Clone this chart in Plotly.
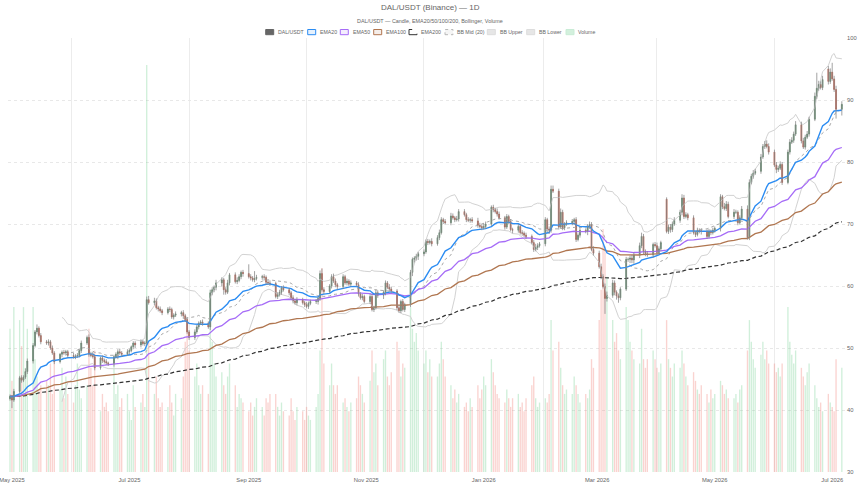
import plotly.graph_objects as go
import pandas as pd

# Trading days only (weekdays), starting Wed 2025-04-30
START = "2025-04-30"
FIRST_OPEN = 41.8

close = [
    42.2, 41.6, 43.0, 45.2, 44.8, 45.3, 46.2, 47.9,
    50.4, 52.6, 53.2, 52.0, 51.0, 50.8,
    51.0, 50.0, 49.2, 47.8, 49.0, 49.3, 49.2, 49.4,
    48.8, 48.6, 48.7, 48.8, 49.6, 50.8,
    51.7, 49.0, 48.8, 48.6, 46.8, 48.4, 48.0, 47.8,
    47.6, 47.5, 48.6, 49.0, 49.4, 49.2, 49.0,
    49.4, 49.6, 50.2, 50.8, 50.5, 51.0, 50.7,
    50.8, 57.8, 57.3, 57.6, 56.5, 56.3, 56.0, 55.7,
    56.3, 56.2, 55.0, 55.3, 55.5, 55.7,
    55.2, 54.6, 52.6, 51.7, 52.6, 53.4, 54.0, 54.2,
    54.0, 53.4, 58.9, 59.4, 59.8, 60.5,
    61.0, 59.4, 59.0, 60.5, 61.8, 60.7, 60.9, 61.5,
    62.2, 62.0, 61.5, 61.3, 61.0, 61.2, 61.4,
    61.5, 61.4, 60.6, 60.5, 60.4, 58.3, 58.6,
    59.0, 59.7, 59.4, 58.9, 58.1, 57.6, 57.3, 57.8,
    57.3, 57.0, 56.7, 57.2, 57.5, 57.5,
    58.0, 62.0, 59.4, 59.1, 60.0, 61.5, 60.8, 60.2,
    59.9, 61.5, 60.5, 60.8, 60.3, 60.5,
    60.2, 58.7, 58.1, 58.3, 57.5, 58.3, 56.2, 56.5,
    58.9, 58.5, 59.0, 60.5, 59.8, 59.5, 59.2,
    56.5, 56.0, 57.5, 56.2, 57.0, 62.2, 64.3,
    64.5, 64.8, 65.2, 65.5, 67.2, 67.0, 67.2, 66.8,
    67.8, 68.6, 70.7, 70.4, 70.2, 71.3,
    71.0, 70.7, 70.8, 72.0, 71.5, 70.7, 70.6, 70.7,
    70.5, 69.8, 69.6, 69.4, 69.6, 70.0,
    72.7, 72.3, 72.0, 71.6, 71.0, 69.5, 71.2, 70.4,
    69.1, 69.0, 69.6, 68.6, 68.5, 68.2, 68.0,
    67.0, 65.9, 66.2, 66.5, 66.8, 70.7, 69.2,
    69.0, 75.6, 75.3, 69.5, 71.9, 69.4, 70.0, 70.2,
    70.4, 70.7, 67.5, 68.2, 69.0, 68.8,
    69.6, 69.9, 65.9, 65.3, 63.1, 61.5, 59.9, 58.0,
    58.5, 60.5, 59.0, 58.4, 58.1, 59.5,
    64.3, 64.3, 64.5, 64.2, 65.0, 66.5, 68.0, 65.6,
    65.2, 65.0, 66.7, 66.5, 65.4, 66.0, 67.0,
    68.8, 69.5, 69.1, 70.0, 70.6, 71.9, 74.2,
    71.2, 71.5, 71.0, 68.6, 68.3, 69.0, 68.9, 68.8,
    68.0, 68.8, 68.6, 69.0, 69.3, 74.4,
    72.8, 72.5, 73.2, 71.2, 71.9, 71.9, 70.2, 71.0,
    72.4, 67.8, 76.7, 77.7, 78.2, 78.5,
    80.8, 82.5, 82.9, 82.5, 81.6, 79.5, 78.8, 79.0,
    79.6, 76.7, 81.6, 83.2, 83.5, 84.5, 86.0,
    83.4, 82.4, 84.0, 84.5, 86.9, 90.6, 91.9,
    92.5, 92.0, 93.3, 93.0, 94.5, 93.4, 91.7, 88.5,
    89.3,
]

# opens that gap away from the previous close
open_gaps = {"2026-04-06": 74.0, "2026-06-29": 95.0}

# wick lengths in tenths of a price unit
up_wick = [
    3, 2, 4, 3, 4, 3, 5, 4, 4, 3, 6, 3, 4, 3, 4, 3, 4, 3, 2, 3,
    4, 3, 3, 4, 3, 4, 3, 4, 3, 5, 4, 6, 3, 2, 4, 3, 4, 2, 3, 3,
    4, 5, 3, 4, 3, 2, 3, 3, 4, 3, 3, 5, 6, 5, 4, 3, 4, 3, 3, 4,
    3, 3, 4, 3, 4, 3, 4, 3, 4, 3, 3, 3, 4, 3, 5, 4, 3, 5, 4, 3,
    4, 5, 3, 4, 5, 4, 3, 4, 15, 4, 3, 12, 4, 3, 4, 3, 3, 4, 3, 4,
    4, 3, 4, 3, 3, 4, 3, 4, 3, 3, 4, 3, 3, 4, 3, 5, 8, 4, 3, 4,
    5, 4, 3, 4, 3, 4, 3, 4, 3, 4, 3, 4, 3, 4, 4, 3, 5, 4, 3, 4,
    3, 5, 4, 3, 4, 3, 4, 3, 4, 3, 3, 4, 3, 4, 3, 4, 3, 5, 4, 5,
    4, 3, 4, 5, 4, 3, 5, 4, 4, 3, 4, 3, 4, 5, 4, 3, 5, 4, 3, 4,
    3, 5, 4, 3, 4, 3, 4, 3, 4, 3, 4, 3, 4, 3, 4, 6, 4, 3, 4, 3,
    4, 6, 6, 4, 6, 4, 3, 4, 4, 3, 4, 3, 4, 3, 4, 5, 4, 5, 4, 5,
    4, 5, 6, 5, 4, 3, 4, 3, 4, 3, 4, 5, 4, 5, 6, 4, 3, 4, 3, 4,
    5, 4, 3, 3, 4, 5, 4, 5, 4, 6, 5, 4, 3, 4, 3, 4, 3, 4, 3, 4,
    3, 4, 3, 4, 3, 6, 5, 4, 5, 4, 3, 4, 5, 6, 5, 4, 5, 4, 5, 4,
    5, 6, 5, 4, 5, 4, 5, 4, 4, 5, 5, 4, 6, 5, 5, 4, 5, 4, 6, 25,
    6, 5, 6, 5, 6, 15, 5, 6, 5,
]

down_wick = [
    3, 13, 3, 3, 4, 3, 3, 4, 4, 3, 4, 3, 4, 3, 4, 3, 3, 4, 3, 5,
    3, 4, 3, 3, 4, 3, 3, 4, 3, 4, 3, 3, 4, 3, 4, 3, 3, 4, 5, 3,
    8, 3, 4, 3, 4, 3, 4, 5, 4, 3, 4, 3, 3, 4, 3, 4, 3, 4, 3, 4,
    3, 4, 3, 4, 5, 4, 3, 4, 4, 3, 4, 3, 4, 3, 5, 4, 4, 5, 6, 8,
    4, 3, 4, 3, 4, 3, 4, 5, 3, 4, 3, 4, 3, 4, 5, 4, 3, 4, 3, 4,
    3, 4, 3, 4, 3, 4, 3, 4, 3, 4, 3, 4, 3, 4, 5, 4, 3, 4, 3, 4,
    3, 4, 5, 4, 3, 4, 3, 4, 3, 4, 3, 4, 3, 4, 3, 4, 3, 4, 6, 5,
    3, 4, 3, 4, 3, 4, 3, 4, 4, 6, 5, 4, 6, 4, 3, 4, 3, 4, 3, 4,
    3, 4, 3, 4, 3, 4, 3, 4, 3, 4, 3, 4, 3, 4, 3, 4, 3, 4, 3, 4,
    3, 4, 3, 4, 3, 4, 3, 5, 4, 3, 4, 3, 4, 3, 4, 3, 4, 3, 4, 5,
    6, 4, 3, 4, 3, 4, 4, 3, 4, 5, 4, 3, 4, 3, 6, 4, 3, 4, 3, 4,
    3, 25, 5, 4, 5, 6, 8, 4, 3, 4, 6, 5, 6, 5, 4, 5, 4, 3, 4, 3,
    4, 3, 4, 3, 4, 5, 4, 3, 4, 5, 4, 3, 4, 3, 4, 3, 4, 5, 4, 3,
    4, 3, 4, 5, 4, 3, 4, 3, 4, 3, 4, 3, 4, 3, 4, 3, 4, 3, 4, 3,
    4, 3, 4, 3, 6, 4, 3, 4, 3, 4, 3, 4, 3, 4, 3, 4, 3, 4, 3, 4,
    4, 3, 4, 5, 4, 3, 4, 15, 10,
]

volume = [
    330, 210, 380, 350, 290, 380, 240, 330,
    380, 260, 220, 190, 200, 210,
    200, 250, 180, 260, 190, 240, 170, 220,
    180, 160, 200, 250, 190, 170,
    200, 330, 240, 200, 280, 140, 180, 150,
    160, 140, 260, 180, 200, 150, 170,
    180, 140, 120, 200, 150, 160, 180,
    150, 938, 300, 180, 220, 170, 150, 160,
    150, 200, 160, 130, 180, 170,
    220, 300, 350, 280, 220, 250, 200, 180,
    200, 180, 420, 300, 250, 220,
    230, 200, 180, 220, 250, 200, 150, 180,
    170, 160, 140, 160, 130, 150, 170,
    150, 130, 170, 160, 180, 180, 150,
    130, 160, 140, 130, 170, 140, 120, 150,
    140, 120, 150, 130, 120, 150,
    180, 280, 470, 250, 200, 250, 200, 180,
    200, 160, 170, 150, 140, 160,
    170, 220, 200, 180, 160, 210, 280, 230,
    250, 200, 260, 280, 220, 200, 230,
    300, 280, 220, 250, 240, 380, 330,
    300, 320, 280, 250, 280, 230, 260, 220,
    220, 250, 300, 260, 220, 200,
    170, 190, 160, 180, 150, 160, 140, 170,
    150, 200, 170, 190, 220, 200,
    260, 230, 200, 180, 170, 160, 190, 170,
    150, 170, 180, 150, 160, 140, 170,
    200, 220, 170, 150, 160, 170, 160,
    180, 350, 280, 300, 240, 200, 180, 190,
    180, 220, 200, 180, 160, 180,
    170, 190, 260, 240, 350, 420, 560, 520,
    450, 350, 300, 320, 280, 260,
    380, 350, 300, 280, 260, 250, 330, 260,
    240, 260, 280, 260, 240, 230, 250,
    350, 260, 240, 220, 250, 240, 280,
    250, 220, 200, 230, 210, 190, 180, 200,
    180, 160, 190, 170, 180, 210,
    200, 180, 190, 170, 170, 180, 160, 190,
    200, 280, 350, 300, 260, 240,
    270, 300, 260, 280, 250, 250, 230, 240,
    220, 250, 380, 300, 270, 250, 280,
    240, 220, 200, 230, 250, 200, 170,
    150, 160, 140, 180, 160, 150, 140, 260,
    240,
]

x_tick_vals = ["2025-05-01", "2025-07-01", "2025-09-01", "2025-11-01",
               "2026-01-01", "2026-03-01", "2026-05-01", "2026-07-01"]
x_tick_text = ["May 2025", "Jul 2025", "Sep 2025", "Nov 2025",
               "Jan 2026", "Mar 2026", "May 2026", "Jul 2026"]
x_grid_vals = ["2025-06-01", "2025-08-01", "2025-10-01", "2025-12-01",
               "2026-02-01", "2026-04-01", "2026-06-01"]
x_range = ["2025-04-28 23:00", "2026-07-08 04:00"]
price_range = [30, 100]
volume_range = [0, 1000]

# ---------------------------------------------------------------
UP = "#4f7d5c"
DOWN = "#b24f3a"
WICK = "#8a8a8a"
VOL_UP = "rgba(120,210,150,0.35)"
VOL_DOWN = "rgba(240,130,120,0.35)"
C_EMA20 = "#2b8cf2"
C_EMA50 = "#a66cf7"
C_EMA100 = "#b07650"
C_EMA200 = "#333333"
C_BBMID = "#a8a8a8"
C_BB = "#d2d2d2"
TXT = "#666666"
FONT = "Liberation Sans, Arial, sans-serif"

dates = pd.bdate_range(START, periods=len(close))
opn = [FIRST_OPEN] + close[:-1]
for i, d in enumerate(dates):
    key = d.strftime("%Y-%m-%d")
    if key in open_gaps:
        opn[i] = open_gaps[key]
body_hi = [max(o, c) for o, c in zip(opn, close)]
body_lo = [min(o, c) for o, c in zip(opn, close)]
high = [h + u / 10 for h, u in zip(body_hi, up_wick)]
low = [l - d / 10 for l, d in zip(body_lo, down_wick)]

s = pd.Series(close, dtype=float)
ema = {n: s.ewm(span=n, adjust=False).mean() for n in (20, 50, 100, 200)}
mid = s.rolling(20).mean()
sd = s.rolling(20).std(ddof=0)
upper = mid + 2 * sd
lower = mid - 2 * sd

vol_colors = [VOL_UP if c >= o else VOL_DOWN for o, c in zip(opn, close)]

wx, wy = [], []
for d, lo_, hi_ in zip(dates, low, high):
    wx += [d, d, None]
    wy += [lo_, hi_, None]

fig = go.Figure()
fig.add_trace(go.Bar(x=dates, y=volume, marker=dict(color=vol_colors, line=dict(width=0)),
                     yaxis="y", name="Volume", showlegend=False))
fig.add_trace(go.Scatter(x=dates, y=upper, mode="lines", line=dict(color=C_BB, width=1),
                         yaxis="y2", name="BB Upper", showlegend=False))
fig.add_trace(go.Scatter(x=dates, y=lower, mode="lines", line=dict(color=C_BB, width=1),
                         yaxis="y2", name="BB Lower", showlegend=False))
fig.add_trace(go.Scatter(x=dates, y=mid, mode="lines", line=dict(color=C_BBMID, width=1, dash="dot"),
                         yaxis="y2", name="BB Mid (20)", showlegend=False))
fig.add_trace(go.Scatter(x=dates, y=ema[200], mode="lines",
                         line=dict(color=C_EMA200, width=1.2, dash="4px,2.5px"),
                         yaxis="y2", name="EMA200", showlegend=False))
fig.add_trace(go.Scatter(x=dates, y=ema[100], mode="lines", line=dict(color=C_EMA100, width=1.3),
                         yaxis="y2", name="EMA100", showlegend=False))
fig.add_trace(go.Scatter(x=dates, y=ema[50], mode="lines", line=dict(color=C_EMA50, width=1.3),
                         yaxis="y2", name="EMA50", showlegend=False))
fig.add_trace(go.Scatter(x=dates, y=ema[20], mode="lines", line=dict(color=C_EMA20, width=1.4),
                         yaxis="y2", name="EMA20", showlegend=False))
fig.add_trace(go.Scatter(x=wx, y=wy, mode="lines", line=dict(color=WICK, width=0.8),
                         yaxis="y2", hoverinfo="skip", showlegend=False))
fig.add_trace(go.Candlestick(
    x=dates, open=opn, high=body_hi, low=body_lo, close=close, yaxis="y2",
    increasing=dict(line=dict(color=UP, width=0.6), fillcolor=UP),
    decreasing=dict(line=dict(color=DOWN, width=0.6), fillcolor=DOWN),
    whiskerwidth=0, name="DAL/USDT", showlegend=False))

# ---- layout geometry (pixels of the 860x484 page) ----
W, H = 860, 484
L, R, T, B = 8, 14, 38, 12
pw, ph = W - L - R, H - T - B


def px(p):
    return (p - L) / pw


def py(p):
    return (H - B - p) / ph


shapes = []
annotations = [
    dict(text="DAL/USDT (Binance) — 1D", x=px(430), y=py(8), xref="paper", yref="paper",
         showarrow=False, xanchor="center", yanchor="middle",
         font=dict(size=8, color=TXT, family=FONT)),
    dict(text="DAL/USDT — Candle, EMA20/50/100/200, Bollinger, Volume", x=px(430), y=py(21.5),
         xref="paper", yref="paper", showarrow=False, xanchor="center", yanchor="middle",
         font=dict(size=5.4, color=TXT, family=FONT)),
]

legend_items = [
    ("DAL/USDT", 265.7, "#666666", "#666666", "solid"),
    ("EMA20", 307.7, C_EMA20, "rgba(43,140,242,0.12)", "solid"),
    ("EMA50", 340.3, C_EMA50, "rgba(166,108,247,0.12)", "solid"),
    ("EMA100", 373.7, C_EMA100, "rgba(176,118,80,0.12)", "solid"),
    ("EMA200", 409.0, C_EMA200, "rgba(0,0,0,0)", "dash"),
    ("BB Mid (20)", 445.0, "#b8b8b8", "rgba(0,0,0,0.04)", "dot"),
    ("BB Upper", 487.3, "#dddddd", "#e6e6e6", "solid"),
    ("BB Lower", 526.7, "#dddddd", "#e6e6e6", "solid"),
    ("Volume", 566.0, "#c9ecd6", "#d3f0dd", "solid"),
]
for label, x0, lc, fc, dash in legend_items:
    shapes.append(dict(type="rect", xref="paper", yref="paper",
                       x0=px(x0), x1=px(x0 + 8), y0=py(34.7), y1=py(29.5),
                       line=dict(color=lc, width=1, dash=dash), fillcolor=fc, layer="above"))
    annotations.append(dict(text=label, x=px(x0 + 10.3), y=py(32.2), xref="paper", yref="paper",
                            showarrow=False, xanchor="left", yanchor="middle",
                            font=dict(size=5.2, color=TXT, family=FONT)))

fig.update_layout(
    width=W, height=H,
    margin=dict(l=L, r=R, t=T, b=B, pad=0, autoexpand=False),
    paper_bgcolor="white", plot_bgcolor="white",
    showlegend=False,
    bargap=0.3,
    font=dict(family=FONT, color=TXT, size=6),
    xaxis=dict(type="date", range=x_range, tickmode="array", tickvals=x_tick_vals,
               ticktext=x_tick_text, showgrid=False, zeroline=False, showline=False,
               ticks="", ticklabeloverflow="allow", automargin=False, ticklabelstandoff=3,
               tickfont=dict(size=5.8, color=TXT), rangeslider=dict(visible=False),
               minor=dict(tickmode="array", tickvals=x_grid_vals, showgrid=True,
                          gridcolor="#ececec", gridwidth=1, ticks="")),
    yaxis=dict(range=volume_range, visible=False, showgrid=False, fixedrange=True,
               automargin=False),
    yaxis2=dict(overlaying="y", side="right", range=price_range, tick0=30, dtick=10,
                showgrid=True, gridcolor="#e8e8e8", griddash="dot", gridwidth=1,
                zeroline=False, showline=False, ticks="", automargin=False,
                tickfont=dict(size=5.8, color=TXT)),
    shapes=shapes,
    annotations=annotations,
)

fig.write_html("out.html")
